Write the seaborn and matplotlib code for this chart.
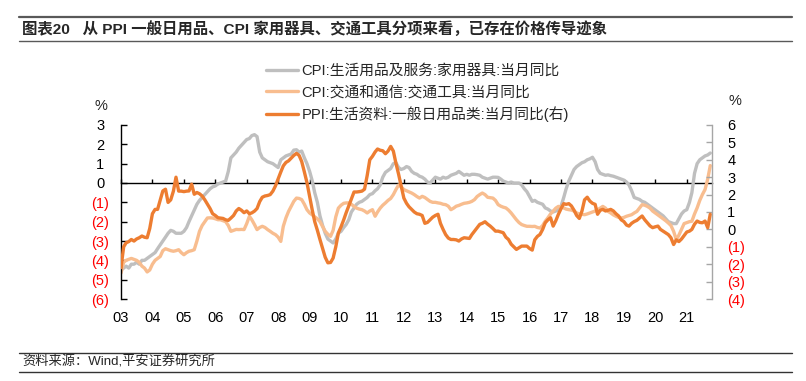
import matplotlib
matplotlib.use("Agg")
import matplotlib.pyplot as plt
import matplotlib.dates as mdates
from matplotlib.lines import Line2D
import pandas as pd
import seaborn as sns

# monthly data, Jan 2003 - Oct 2021
months = pd.date_range("2003-01-01", "2021-10-01", freq="MS")

cpi_appliance = [
    -4.5, -4.4, -4.3, -4.4, -4.2, -4.2, -4.1, -4.2, -4.0, -4.0, -3.9, -3.8,
    -3.7, -3.6, -3.4, -3.2, -3.0, -2.8, -2.6, -2.45, -2.5, -2.6, -2.6, -2.6,
    -2.5, -2.3, -2.0, -1.7, -1.4, -1.1, -0.9, -0.75, -0.6, -0.45, -0.3, -0.2,
    -0.15, -0.05, 0.0, 0.05, 0.1, 0.6, 1.3, 1.45, 1.6, 1.8, 1.95, 2.1,
    2.25, 2.3, 2.45, 2.5, 2.4, 1.6, 1.3, 1.2, 1.1, 1.05, 1.0, 0.9,
    0.8, 1.2, 1.3, 1.4, 1.45, 1.5, 1.7, 1.72, 1.6, 1.65, 1.3, 1.0,
    0.6, 0.1, -0.5, -1.0, -1.7, -2.2, -2.6, -2.9, -3.0, -3.1, -2.9, -2.6,
    -2.5, -2.3, -2.15, -1.9, -1.5, -1.3, -1.1, -1.0, -0.95, -0.85, -0.75, -0.6,
    -0.55, -0.4, -0.3, -0.1, 0.3, 0.55, 0.65, 0.75, 1.0, 1.05, 0.8, 0.7,
    0.75, 0.85, 0.8, 0.6, 0.5, 0.45, 0.35, 0.3, 0.2, 0.05, 0.0, 0.15,
    0.3, 0.25, 0.2, 0.3, 0.25, 0.3, 0.4, 0.45, 0.5, 0.6, 0.5, 0.4,
    0.45, 0.4, 0.45, 0.45, 0.43, 0.4, 0.3, 0.25, 0.2, 0.25, 0.3, 0.3,
    0.29, 0.2, 0.1, 0.05, 0.0, 0.05, 0.0, 0.0, 0.0, -0.1, -0.3, -0.45,
    -0.7, -0.95, -0.9, -1.0, -1.05, -1.1, -1.29, -1.35, -1.45, -1.5, -1.45, -1.4,
    -1.2, -0.75, -0.3, 0.1, 0.4, 0.7, 0.85, 0.95, 1.05, 1.1, 1.2, 1.25,
    1.33, 1.1, 0.7, 0.5, 0.45, 0.4, 0.42, 0.38, 0.35, 0.3, 0.25, 0.2,
    0.15, 0.05, -0.1, -0.4, -0.75, -0.8, -0.85, -0.95, -1.0, -1.1, -1.2, -1.3,
    -1.4, -1.5, -1.6, -1.7, -1.85, -2.0, -2.05, -2.1, -2.1, -1.85, -1.6, -1.45,
    -1.38, -1.0, -0.5, 0.5, 1.0, 1.2, 1.3, 1.4, 1.45, 1.55,
]

cpi_vehicle = [
    -4.66, -4.1, -4.0, -3.95, -3.9, -3.95, -4.0, -4.1, -4.3, -4.4, -4.6, -4.5,
    -4.2, -4.0, -3.9, -3.8, -3.5, -3.4, -3.45, -3.5, -3.53, -3.5, -3.45, -3.6,
    -3.71, -3.6, -3.53, -3.5, -3.45, -3.0, -2.5, -2.2, -2.0, -1.81, -1.8, -1.81,
    -1.85, -1.9, -1.9, -1.95, -2.0, -2.2, -2.5, -2.45, -2.4, -2.41, -2.4, -2.41,
    -2.1, -1.72, -1.9, -2.15, -2.41, -2.3, -2.24, -2.3, -2.41, -2.5, -2.6, -2.67,
    -2.8, -3.02, -2.24, -1.8, -1.47, -1.2, -0.95, -0.78, -0.8, -0.86, -1.1, -1.38,
    -1.55, -1.65, -1.75, -1.85, -2.0, -2.25, -2.5, -2.65, -2.76, -2.45, -1.75, -1.3,
    -1.15, -1.05, -1.03, -1.03, -1.1, -1.21, -1.3, -1.35, -1.38, -1.45, -1.55, -1.45,
    -1.38, -1.72, -1.5, -1.3, -1.15, -1.03, -0.9, -0.8, -0.6, -0.34, -0.1, -0.2,
    -0.34, -0.4, -0.45, -0.52, -0.6, -0.7, -0.78, -0.69, -0.75, -0.85, -0.95, -1.0,
    -1.0, -1.03, -1.05, -1.1, -1.12, -1.2, -1.38, -1.3, -1.2, -1.16, -1.1, -1.05,
    -1.03, -1.0, -0.95, -0.86, -0.7, -0.6, -0.52, -0.6, -0.74, -0.76, -0.78, -0.9,
    -1.12, -1.2, -1.25, -1.29, -1.4, -1.55, -1.72, -1.9, -2.05, -2.15, -2.2, -2.24,
    -2.24, -2.25, -2.24, -2.3, -2.33, -2.2, -1.98, -1.8, -1.6, -1.45, -1.3, -1.21,
    -1.25, -1.29, -1.35, -1.38, -1.4, -1.45, -1.55, -1.6, -1.62, -1.64, -1.6, -1.55,
    -1.5, -1.45, -1.38, -1.3, -1.21, -1.3, -1.47, -1.55, -1.65, -1.72, -1.78, -1.81,
    -1.78, -1.72, -1.68, -1.64, -1.55, -1.47, -1.3, -1.12, -1.15, -1.21, -1.3, -1.45,
    -1.55, -1.65, -1.75, -1.85, -1.95, -2.07, -2.2, -2.5, -2.93, -2.7, -2.4, -2.1,
    -2.05, -2.0, -1.98, -1.6, -1.29, -0.9, -0.6, -0.34, 0.2, 0.9,
]

ppi_daily = [
    -2.2, -1.0, -0.77, -0.7, -0.58, -0.67, -0.55, -0.48, -0.38, -0.45, -0.48, 0.05,
    0.9, 1.15, 1.15, 1.7, 2.21, 2.31, 1.55, 1.7, 2.2, 3.0, 2.2, 2.2,
    2.17, 2.2, 2.21, 2.6, 2.02, 2.12, 2.05, 1.92, 1.7, 1.45, 1.2, 0.9,
    0.8, 0.67, 0.65, 0.63, 0.55, 0.52, 0.65, 0.8, 1.06, 1.2, 1.1, 0.96,
    1.06, 0.9, 0.95, 1.05, 1.2, 1.6, 1.85, 1.92, 1.95, 2.0, 2.2, 2.5,
    2.9, 3.3, 3.65, 3.85, 3.94, 4.1, 4.25, 4.37, 4.25, 3.9, 3.3, 2.69,
    1.9, 1.1, 0.45, -0.05, -0.58, -1.1, -1.6, -1.92, -1.9, -1.65, -1.0, -0.2,
    0.15, 0.55, 0.95, 1.35, 1.75, 2.15, 2.15, 2.17, 2.2, 2.31, 3.1, 4.0,
    4.2, 4.45, 4.62, 4.55, 4.52, 4.35, 4.5, 4.77, 4.5, 3.8, 3.17, 2.5,
    1.8, 1.5, 1.3, 1.15, 1.0, 0.9, 0.87, 0.8, 0.35, 0.4, 0.55, 0.7,
    0.8, 0.87, 0.35, 0.0, -0.3, -0.5, -0.58, -0.58, -0.6, -0.67, -0.55, -0.48,
    -0.5, -0.52, -0.3, -0.1, 0.1, 0.29, 0.35, 0.44, 0.3, 0.19, 0.05, -0.1,
    -0.1, -0.15, -0.19, -0.45, -0.58, -0.85, -1.0, -1.15, -1.05, -0.96, -0.96, -0.96,
    -1.1, -1.19, -0.6, -0.4, -0.29, 0.0, 0.38, 0.55, 0.67, 0.19, 0.5, 0.87,
    1.2, 1.48, 1.44, 1.48, 1.35, 1.1, 0.8, 0.63, 1.06, 1.7, 1.85, 1.63,
    1.5, 1.44, 0.87, 1.1, 1.15, 1.06, 1.1, 1.15, 1.06, 0.9, 0.77, 0.55,
    0.45, 0.25, 0.19, 0.35, 0.45, 0.52, 0.65, 0.77, 0.55, 0.38, 0.2, 0.1,
    0.15, 0.19, 0.0, -0.1, -0.19, -0.3, -0.48, -0.87, -0.6, -0.7, -0.55, -0.35,
    -0.15, -0.1, 0.0, 0.3, 0.48, 0.4, 0.38, 0.48, 0.1, 0.87,
]

series_labels = [
    "CPI:生活用品及服务:家用器具:当月同比",
    "CPI:交通和通信:交通工具:当月同比",
    "PPI:生活资料:一般日用品类:当月同比(右)",
]
left_ticks = list(range(-6, 4))
right_ticks = list(range(-4, 7))
years = list(range(2003, 2022))

GRAY = "#BFBFBF"
PEACH = "#F8BD8F"
ORANGE = "#ED7D31"
RED = "#FF0000"

df = pd.DataFrame({
    "date": months,
    "appliance": cpi_appliance,
    "vehicle": cpi_vehicle,
    "ppi": ppi_daily,
})

sns.set_style("white")
plt.rcParams["font.family"] = ["Liberation Sans", "Noto Sans CJK SC"]
plt.rcParams["axes.unicode_minus"] = False

W, H = 806, 381
fig = plt.figure(figsize=(W / 100, H / 100), dpi=100)
ax = fig.add_axes([121 / W, 1 - 299 / H, (712 - 121) / W, (299 - 125) / H])
ax2 = ax.twinx()

sns.lineplot(data=df, x="date", y="appliance", ax=ax, color=GRAY, lw=2.4,
             label=series_labels[0], legend=False)
sns.lineplot(data=df, x="date", y="vehicle", ax=ax, color=PEACH, lw=2.4,
             label=series_labels[1], legend=False)
sns.lineplot(data=df, x="date", y="ppi", ax=ax2, color=ORANGE, lw=2.4,
             label=series_labels[2], legend=False)

ax.set_xlim(months[0], months[-1] + pd.Timedelta(days=20))
ax.set_ylim(left_ticks[0], left_ticks[-1])
ax2.set_ylim(right_ticks[0], right_ticks[-1])
for a in (ax, ax2):
    a.set_xlabel("")
    a.set_ylabel("")
    a.grid(False)

# x labels at the bottom, tick marks on the zero line
year_dates = [pd.Timestamp(f"{y}-01-01") for y in years]
ax.set_xticks(year_dates)
ax.set_xticklabels([f"{y % 100:02d}" for y in years])
ax.tick_params(axis="x", length=0, pad=9, labelsize=10.5, colors="black")

zero_pos = (0 - left_ticks[0]) / (left_ticks[-1] - left_ticks[0])
zx = ax.secondary_xaxis(zero_pos)
zx.set_xticks(mdates.date2num(year_dates))
zx.tick_params(axis="x", direction="out", length=3, width=1, color="black",
               labeltop=False, labelbottom=False)
for s in zx.spines.values():
    s.set_color("black")
    s.set_linewidth(1)

def fmt(v):
    return f"({-v})" if v < 0 else str(v)

ax.set_yticks(left_ticks)
ax.set_yticklabels([fmt(v) for v in left_ticks])
ax.tick_params(axis="y", direction="in", length=4, width=1, color="black",
               pad=15, labelsize=10.5)
for t, v in zip(ax.get_yticklabels(), left_ticks):
    t.set_horizontalalignment("center")
    t.set_color(RED if v < 0 else "black")

ax2.set_yticks(right_ticks)
ax2.set_yticklabels([fmt(v) for v in right_ticks])
ax2.tick_params(axis="y", direction="in", length=4, width=1, color="#A6A6A6",
                pad=11, labelsize=10.5)
for t, v in zip(ax2.get_yticklabels(), right_ticks):
    t.set_color(RED if v < 0 else "black")

for side in ("top", "bottom", "right"):
    ax.spines[side].set_visible(False)
ax.spines["left"].set_color("black")
ax.spines["left"].set_linewidth(1)
for side in ("top", "bottom", "left"):
    ax2.spines[side].set_visible(False)
ax2.spines["right"].set_color("#A6A6A6")
ax2.spines["right"].set_linewidth(1)

fig.text(101 / W, 1 - 106 / H, "%", ha="center", va="center", fontsize=10.5)
fig.text(735 / W, 1 - 101 / H, "%", ha="center", va="center", fontsize=10.5)

h1, l1 = ax.get_legend_handles_labels()
h2, l2 = ax2.get_legend_handles_labels()
fig.legend(h1 + h2, l1 + l2, loc="upper left",
           bbox_to_anchor=(266 / W, 1 - 64 / H), frameon=False,
           fontsize=10.6, handlelength=2.2, handletextpad=0.2,
           labelspacing=0.5, borderpad=0, borderaxespad=0)

# title and source bars
fig.add_artist(Line2D([19 / W, 792 / W], [1 - 17 / H, 1 - 17 / H],
                      color="#595959", lw=1.6))
fig.add_artist(Line2D([19 / W, 792 / W], [1 - 41 / H, 1 - 41 / H],
                      color="#595959", lw=1.0))
fig.text(22 / W, 1 - 29.5 / H,
         "图表20   从 PPI 一般日用品、CPI 家用器具、交通工具分项来看，已存在价格传导迹象",
         ha="left", va="center", fontsize=11.1, fontweight="bold")

fig.add_artist(Line2D([19 / W, 792 / W], [1 - 352.5 / H, 1 - 352.5 / H],
                      color="#333333", lw=1.0))
fig.add_artist(Line2D([19 / W, 792 / W], [1 - 372 / H, 1 - 372 / H],
                      color="#333333", lw=1.0))
fig.text(22 / W, 1 - 362 / H, "资料来源：Wind,平安证券研究所",
         ha="left", va="center", fontsize=9.5)

fig.savefig("out.png", dpi=100)
